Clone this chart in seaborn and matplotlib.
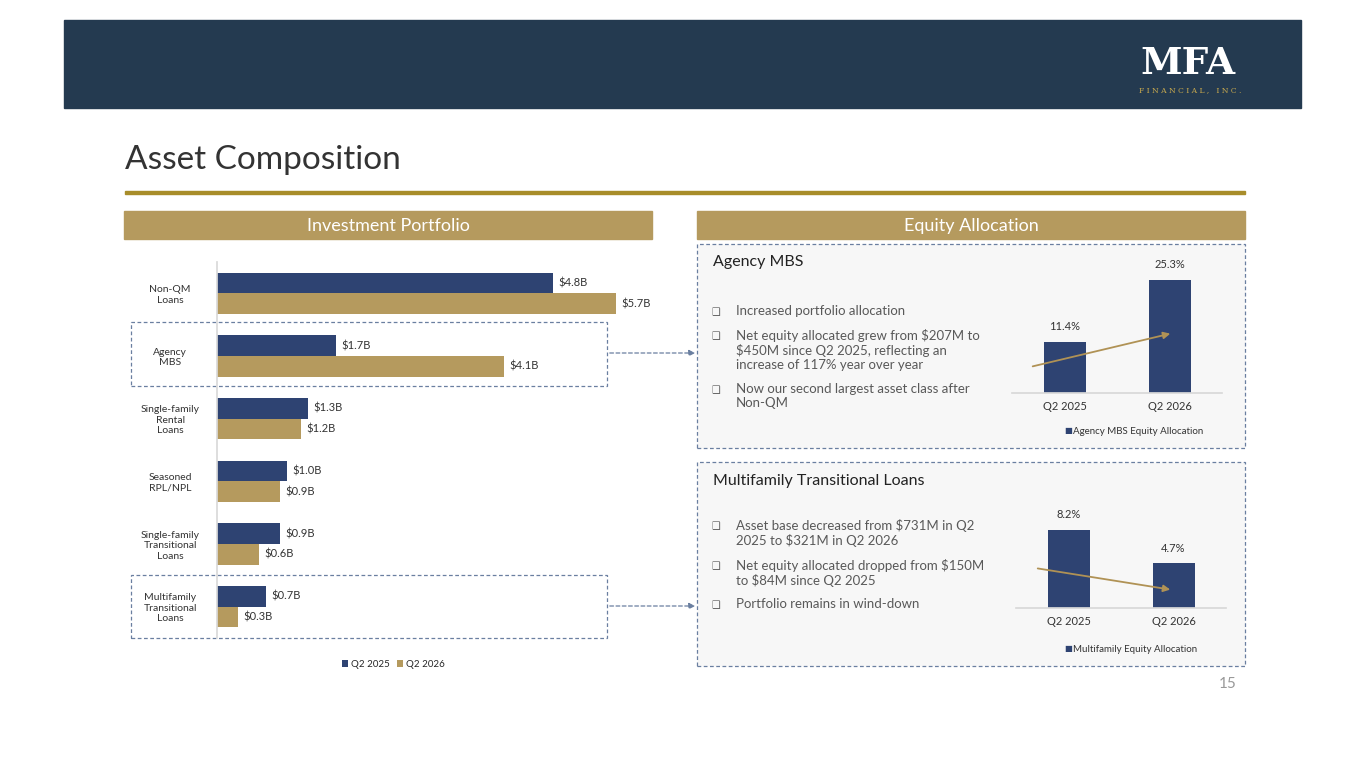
import matplotlib
matplotlib.use("Agg")
import matplotlib.pyplot as plt
import seaborn as sns
import pandas as pd
from matplotlib.patches import Rectangle, FancyArrowPatch

sns.set_theme(style="white")
plt.rcParams['font.family'] = ['Lato', 'DejaVu Sans']

categories = ["Non-QM\nLoans", "Agency\nMBS", "Single-family\nRental\nLoans", "Seasoned\nRPL/NPL",
              "Single-family\nTransitional\nLoans", "Multifamily\nTransitional\nLoans"]
q2_2025 = [4.8, 1.7, 1.3, 1.0, 0.9, 0.7]
q2_2026 = [5.7, 4.1, 1.2, 0.9, 0.6, 0.3]
periods = ["Q2 2025", "Q2 2026"]
agency_alloc = [11.4, 25.3]
multi_alloc = [8.2, 4.7]

NAVY = "#2e4372"; GOLD = "#b59a5e"; HEAD = "#243a50"; GRAY = "#595959"
W, H = 1365, 768
fig = plt.figure(figsize=(W/100, H/100), dpi=100)

def rect(x0, y0, x1, y1):
    return [x0/W, 1-y1/H, (x1-x0)/W, (y1-y0)/H]
def fx(x): return x/W
def fy(y): return 1-y/H

# header
fig.patches.append(Rectangle((fx(64), fy(108)), fx(1301)-fx(64), fy(20)-fy(108), transform=fig.transFigure, color=HEAD, zorder=-5))
fig.text(fx(1188), fy(64), "MFA", color="white", fontsize=27, family=["DejaVu Serif"], ha="center", va="center", weight="bold")
fig.text(fx(1190), fy(90), "F I N A N C I A L ,   I N C .", color="#c8a94e", fontsize=5.5, family=["DejaVu Serif"], ha="center", va="center")
fig.text(fx(125), fy(160), "Asset Composition", fontsize=24, color="#333333", va="center")
fig.patches.append(Rectangle((fx(125), fy(194)), fx(1245)-fx(125), 3/H, transform=fig.transFigure, color="#a88d2a", zorder=-5))
for x0, x1, t in [(124, 652, "Investment Portfolio"), (697, 1245, "Equity Allocation")]:
    fig.patches.append(Rectangle((fx(x0), fy(239)), fx(x1)-fx(x0), fy(211)-fy(239), transform=fig.transFigure, color=GOLD, zorder=-5))
    fig.text(fx((x0+x1)/2), fy(226), t, color="white", fontsize=13, ha="center", va="center")

# dashed boxes
def dbox(x0, y0, x1, y1, fill="none"):
    fig.patches.append(Rectangle((fx(x0), fy(y1)), fx(x1)-fx(x0), fy(y0)-fy(y1), transform=fig.transFigure,
                                 fill=(fill != "none"), facecolor=fill, edgecolor="#6a7fa0", ls=(0, (3, 2)), lw=0.9, zorder=-5))
dbox(131, 322, 607, 386); dbox(131, 575, 607, 638)
dbox(697, 244, 1245, 448, "#f7f7f7"); dbox(697, 462, 1245, 666, "#f7f7f7")
for y in [353, 606]:
    fig.patches.append(FancyArrowPatch((fx(607), fy(y)), (fx(698), fy(y)), transform=fig.transFigure,
                                       arrowstyle="-|>", mutation_scale=9, color="#6a7fa0", ls=(0, (3, 2)), lw=0.9))

# main bar chart
df = pd.DataFrame({"cat": categories*2, "val": q2_2025+q2_2026, "period": ["Q2 2025"]*6+["Q2 2026"]*6})
ax = fig.add_axes(rect(217, 262, 637, 638))
ax.set_facecolor("none")
sns.barplot(data=df, y="cat", x="val", hue="period", orient="h", palette=[NAVY, GOLD], width=0.66,
            saturation=1, linewidth=0, ax=ax)
for c in ax.containers:
    ax.bar_label(c, labels=[f"${v:.1f}B" for v in c.datavalues], padding=4, fontsize=8, color="#333333")
ax.set_xlim(0, 6); ax.set_xlabel(""); ax.set_ylabel("")
ax.set_xticks([])
ax.tick_params(axis="y", length=0, labelsize=7.5, colors="#333333")
for lab in ax.get_yticklabels(): lab.set_ha("center"); lab.set_x(-0.1)
for s in ["top", "right", "bottom"]: ax.spines[s].set_visible(False)
ax.spines["left"].set_color("#d9d9d9")
ax.legend(loc="upper center", bbox_to_anchor=(0.42, -0.035), ncol=2, frameon=False, fontsize=7,
          handlelength=0.6, handleheight=0.6, columnspacing=0.8, handletextpad=0.3)

# right panels
def panel(ytitle, title, bullets, ybul, vals, axr, legend, legtext, arrow):
    fig.text(fx(713), fy(ytitle), title, fontsize=11.5, color="#222222", va="center")
    for yb, b in zip(ybul, bullets):
        fig.text(fx(711), fy(yb+2), "❑", fontsize=7, color=GRAY, va="top", family=["DejaVu Sans"])
        fig.text(fx(736), fy(yb), b, fontsize=9.5, color=GRAY, va="top", linespacing=1.2)
    a = fig.add_axes(rect(*axr))
    a.set_facecolor("none")
    sns.barplot(x=periods, y=vals, color=NAVY, width=0.4, saturation=1, linewidth=0, ax=a)
    a.bar_label(a.containers[0], labels=[f"{v:.1f}%" for v in vals], padding=7, fontsize=8, color="#333333")
    a.set_yticks([])
    for s in ["top", "right", "left"]: a.spines[s].set_visible(False)
    a.spines["bottom"].set_color("#d9d9d9")
    a.tick_params(axis="x", length=0, labelsize=8, colors="#333333", pad=6)
    a.set_ylim(0, max(vals))
    fig.text(fx(1064), fy(legend), "■", fontsize=6, color=NAVY, va="center", family=["DejaVu Sans"])
    fig.text(fx(1073), fy(legend), legtext, fontsize=7, color="#333333", va="center")
    fig.patches.append(FancyArrowPatch((fx(arrow[0]), fy(arrow[1])), (fx(arrow[2]), fy(arrow[3])), transform=fig.transFigure,
                                       arrowstyle="-|>", mutation_scale=10, color="#b09255", lw=1.3, zorder=5))

panel(262, "Agency MBS",
      ["Increased portfolio allocation",
       "Net equity allocated grew from $207M to\n$450M since Q2 2025, reflecting an\nincrease of 117% year over year",
       "Now our second largest asset class after\nNon-QM"],
      [305, 329, 383], agency_alloc, (1012, 280, 1222, 393), 431, "Agency MBS Equity Allocation", (1030, 367, 1173, 333))
panel(481, "Multifamily Transitional Loans",
      ["Asset base decreased from $731M in Q2\n2025 to $321M in Q2 2026",
       "Net equity allocated dropped from $150M\nto $84M since Q2 2025",
       "Portfolio remains in wind-down"],
      [519, 559, 598], multi_alloc, (1016, 530, 1226, 608), 649, "Multifamily Equity Allocation", (1035, 568, 1173, 590))

fig.text(fx(1237), fy(684), "15", fontsize=11, color="#999999", ha="right", va="center")
fig.savefig("out.png", dpi=100)
